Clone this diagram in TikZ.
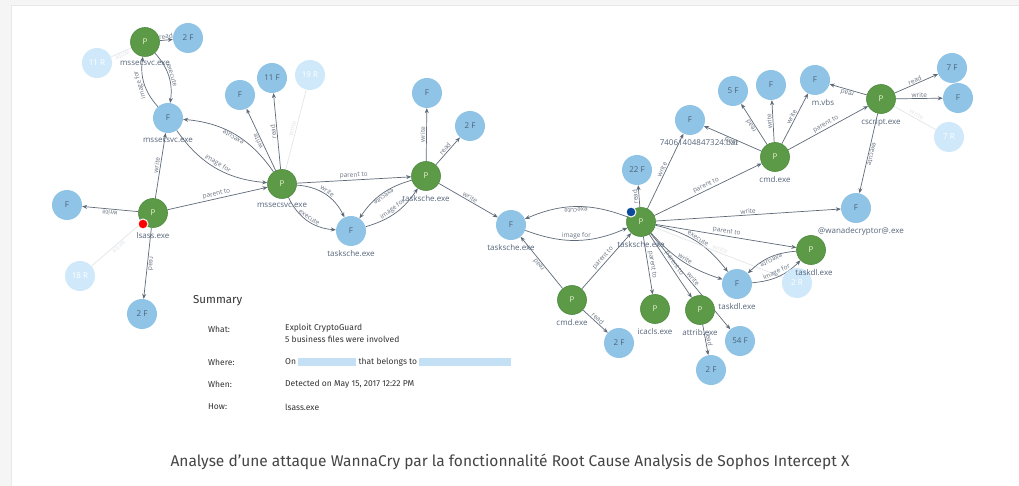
\documentclass[tikz,border=0pt]{standalone}
\usepackage{fontspec}
\usepackage{tikz}
\usepackage{xcolor}
\usetikzlibrary{arrows.meta,backgrounds}
\setmainfont{Fira Sans}
\newfontfamily\graphfont{Open Sans}

\definecolor{pgreen}{HTML}{5C9A48}
\definecolor{pborder}{HTML}{4C8A3C}
\definecolor{ptext}{HTML}{EEF3D2}
\definecolor{fblue}{HTML}{8FC4E6}
\definecolor{ftext}{HTML}{4E6178}
\definecolor{gblue}{HTML}{CFE9FB}
\definecolor{edgec}{HTML}{5E6A78}
\definecolor{elabc}{HTML}{6A7482}
\definecolor{fadec}{HTML}{E3E6E9}
\definecolor{lblc}{HTML}{56657A}
\definecolor{blurc}{HTML}{C4E0F4}
\definecolor{sumtext}{HTML}{333333}
\definecolor{capc}{HTML}{454545}
\definecolor{navy}{HTML}{0E4A9A}

\newcommand{\redact}[1]{\textcolor{blurc}{\rule[-1.5pt]{#1}{7.5pt}}}

\begin{document}
\begin{tikzpicture}[x=1pt, y=1pt,
    proc/.style={circle, draw=pborder, line width=0.6pt, fill=pgreen, minimum size=29pt, inner sep=0pt, text=ptext, font=\graphfont\fontsize{8}{9}\selectfont},
    file/.style={circle, fill=fblue, minimum size=30pt, inner sep=0pt, text=ftext, font=\graphfont\fontsize{8}{9}\selectfont},
    ghost/.style={circle, fill=gblue, minimum size=30pt, inner sep=0pt, text=white, font=\graphfont\fontsize{8}{9}\selectfont},
    lbl/.style={label distance=1pt, text=lblc, font=\graphfont\fontsize{8}{9}\selectfont},
    edge/.style={draw=edgec, line width=0.7pt, -{Stealth[length=5pt, width=4pt]}},
    fade/.style={draw=fadec, line width=0.7pt},
    elab/.style={sloped, allow upside down, above, inner sep=1pt, text=elabc, font=\graphfont\fontsize{6.5}{7}\selectfont},
    fadetxt/.style={text=fadec},
    dot/.style={circle, draw=white, line width=1pt, minimum size=10pt, inner sep=0pt},
    sumlbl/.style={anchor=west, inner sep=0pt, text=sumtext, font=\fontsize{8.5}{12}\selectfont, align=left}]

    \useasboundingbox (0,0) rectangle (1019,-486);

    % Card
    \begin{scope}[on background layer]
        \fill[black!4] (0,0) rectangle (1019,-486);
        \filldraw[fill=white, draw=black!9, line width=1pt] (11,-6) rectangle (1030,-496);
    \end{scope}

    % mssecsvc.exe (top)
    \node[proc, label={[lbl]below:mssecsvc.exe}] (pmsstop) at (145,-42) {P};
    \node[file] (ftop2) at (188,-38) {2 F};
    \node[ghost] (rtop11) at (97,-63) {11 R};
    \node[file, label={[lbl]below:mssecsvc.exe}] (fmss) at (168,-118) {F};

    % lsass.exe
    \node[proc, label={[lbl]below:lsass.exe}] (plsass) at (153,-213) {P};
    \node[file] (fleft) at (67,-205) {F};
    \node[ghost] (rlsass18) at (80,-276) {18 R};
    \node[file] (flsass2) at (142,-314) {2 F};
    \node[dot, fill=red] (reddot) at (143,-224) {};

    % mssecsvc.exe (middle)
    \node[proc, label={[lbl]below:mssecsvc.exe}] (pmss) at (282,-184) {P};
    \node[file] (fmssw) at (240,-95) {F};
    \node[file] (fmss11) at (272,-78) {11 F};
    \node[ghost] (rmss19) at (310,-75) {19 R};

    % tasksche.exe
    \node[file, label={[lbl]below:tasksche.exe}] (ftask1) at (351,-231) {F};
    \node[proc, label={[lbl]below:tasksche.exe}] (ptask1) at (426,-176) {P};
    \node[file] (ftask1w) at (427,-93) {F};
    \node[file] (ftask1r) at (470,-126) {2 F};
    \node[file, label={[lbl]below:tasksche.exe}] (ftask2) at (511,-225) {F};
    \node[proc, label={[lbl]below:tasksche.exe}] (ptask2) at (641,-222) {P};
    \node[dot, fill=navy] (bluedot) at (631,-212) {};
    \node[file] (f22) at (637,-170) {22 F};
    \node[file, label={[lbl, xshift=9pt]below:74061404847324.bat}] (fbat) at (690,-120) {F};

    % cmd.exe and cscript.exe
    \node[proc, label={[lbl]below:cmd.exe}] (pcmd1) at (775,-157) {P};
    \node[file] (f5) at (733,-91) {5 F};
    \node[file] (fcmdw) at (771,-85) {F};
    \node[file, label={[lbl, xshift=8pt]below:m.vbs}] (fvbs) at (815,-80) {F};
    \node[proc, label={[lbl]below:cscript.exe}] (pscript) at (881,-99) {P};
    \node[file] (f7) at (952,-68) {7 F};
    \node[file] (fscriptw) at (958,-98) {F};
    \node[ghost] (rscript7) at (949,-137) {7 R};
    \node[file, label={[lbl, xshift=5pt]below:@wanadecryptor@.exe}] (fwana) at (856,-208) {F};

    % taskdl.exe
    \node[ghost] (rdl2) at (797,-283) {2 R};
    \node[proc, label={[lbl, xshift=3pt]below:taskdl.exe}] (pdl) at (811,-250) {P};
    \node[file, label={[lbl]below:taskdl.exe}] (fdl) at (737,-284) {F};

    % Children below
    \node[proc, label={[lbl]below:cmd.exe}] (pcmd2) at (572,-300) {P};
    \node[file] (fcmd2r) at (619,-343) {2 F};
    \node[proc, label={[lbl]below:icacls.exe}] (picacls) at (655,-309) {P};
    \node[proc, label={[lbl]below:attrib.exe}] (pattrib) at (700,-310) {P};
    \node[file] (f54) at (740,-341) {54 F};
    \node[file] (fattrib2) at (711,-370) {2 F};

    % Summary
    \node[anchor=west, inner sep=0pt, text=sumtext, font=\fontsize{11.5}{13}\selectfont] (sumtitle) at (193,-301) {Summary};
    \node[sumlbl] (whatk) at (208,-329) {What:};
    \node[sumlbl, anchor=north west] (whatv) at (285,-324) {Exploit CryptoGuard\\5 business files were involved};
    \node[sumlbl] (wherek) at (208,-362) {Where:};
    \node[sumlbl] (wherev) at (285,-362) {On \redact{58pt} that belongs to \redact{92pt}};
    \node[sumlbl] (whenk) at (208,-384) {When:};
    \node[sumlbl] (whenv) at (285,-384) {Detected on May 15, 2017 12:22 PM};
    \node[sumlbl] (howk) at (208,-407) {How:};
    \node[sumlbl] (howv) at (285,-407) {lsass.exe};

    % Caption
    \node[text=capc, font=\fontsize{15.5}{18}\selectfont] (caption) at (510,-462) {Analyse d’une attaque WannaCry par la fonctionnalité Root Cause Analysis de Sophos Intercept X};

    % Connections
    \begin{scope}[on background layer]
        \draw[fade] (pmsstop) -- node[elab, fadetxt] {write} (rtop11);
        \draw[edge] (pmsstop) -- node[elab] {read} (ftop2);
        \draw[edge] (pmsstop) to[bend left=25] node[elab] {execute} (fmss);
        \draw[edge] (fmss) to[bend left=25] node[elab] {image for} (pmsstop);

        \draw[edge] (plsass) -- node[elab] {write} (fmss);
        \draw[edge] (plsass) -- node[elab] {write} (fleft);
        \draw[fade] (plsass) -- node[elab, fadetxt] {write} (rlsass18);
        \draw[edge] (plsass) -- node[elab] {read} (flsass2);
        \draw[edge] (plsass) -- node[elab] {parent to} (pmss);

        \draw[edge] (pmss) to[bend right=25] node[elab] {execute} (fmss);
        \draw[edge] (fmss) to[bend right=25] node[elab] {image for} (pmss);
        \draw[edge] (pmss) -- node[elab] {write} (fmssw);
        \draw[edge] (pmss) -- node[elab] {read} (fmss11);
        \draw[fade] (pmss) -- node[elab, fadetxt] {write} (rmss19);
        \draw[edge] (pmss) -- node[elab] {parent to} (ptask1);
        \draw[edge] (pmss) to[bend left=30] node[elab] {write} (ftask1);
        \draw[edge] (pmss) to[bend right=30] node[elab] {execute} (ftask1);

        \draw[edge] (ptask1) to[bend right=20] node[elab] {execute} (ftask1);
        \draw[edge] (ftask1) to[bend right=20] node[elab] {image for} (ptask1);
        \draw[edge] (ptask1) -- node[elab] {write} (ftask1w);
        \draw[edge] (ptask1) -- node[elab] {read} (ftask1r);
        \draw[edge] (ptask1) -- node[elab] {write} (ftask2);

        \draw[edge] (ptask2) to[bend right=22] node[elab] {execute} (ftask2);
        \draw[edge] (ftask2) to[bend right=22] node[elab] {image for} (ptask2);
        \draw[edge] (pcmd2) -- node[elab] {read} (ftask2);
        \draw[edge] (pcmd2) -- node[elab] {parent to} (ptask2);
        \draw[edge] (pcmd2) -- node[elab] {read} (fcmd2r);
        \draw[edge] (ptask2) -- node[elab] {read} (f22);
        \draw[edge] (ptask2) -- node[elab] {write} (fbat);
        \draw[edge] (ptask2) -- node[elab] {parent to} (pcmd1);
        \draw[edge] (ptask2) -- node[elab] {write} (fwana);
        \draw[edge] (ptask2) -- node[elab] {parent to} (pdl);
        \draw[edge] (ptask2) to[bend left=20] node[elab] {execute} (fdl);
        \draw[edge] (ptask2) to[bend right=15] node[elab] {write} (fdl);
        \draw[fade] (ptask2) -- node[elab, fadetxt] {write} (rdl2);
        \draw[edge] (ptask2) -- node[elab] {parent to} (picacls);
        \draw[edge] (ptask2) -- node[elab] {parent to} (pattrib);
        \draw[edge] (ptask2) -- node[elab] {write} (f54);
        \draw[edge] (pattrib) -- node[elab] {read} (fattrib2);
        \draw[edge] (pdl) to[bend right=20] node[elab] {execute} (fdl);
        \draw[edge] (fdl) to[bend right=20] node[elab] {image for} (pdl);

        \draw[edge] (pcmd1) -- node[elab] {read} (fbat);
        \draw[edge] (pcmd1) -- node[elab] {read} (f5);
        \draw[edge] (pcmd1) -- node[elab] {write} (fcmdw);
        \draw[edge] (pcmd1) -- node[elab] {write} (fvbs);
        \draw[edge] (pcmd1) -- node[elab] {parent to} (pscript);

        \draw[edge] (pscript) -- node[elab] {read} (fvbs);
        \draw[edge] (pscript) -- node[elab] {read} (f7);
        \draw[edge] (pscript) -- node[elab] {write} (fscriptw);
        \draw[fade] (pscript) -- node[elab, fadetxt] {write} (rscript7);
        \draw[edge] (pscript) -- node[elab] {execute} (fwana);
    \end{scope}
\end{tikzpicture}
\end{document}
